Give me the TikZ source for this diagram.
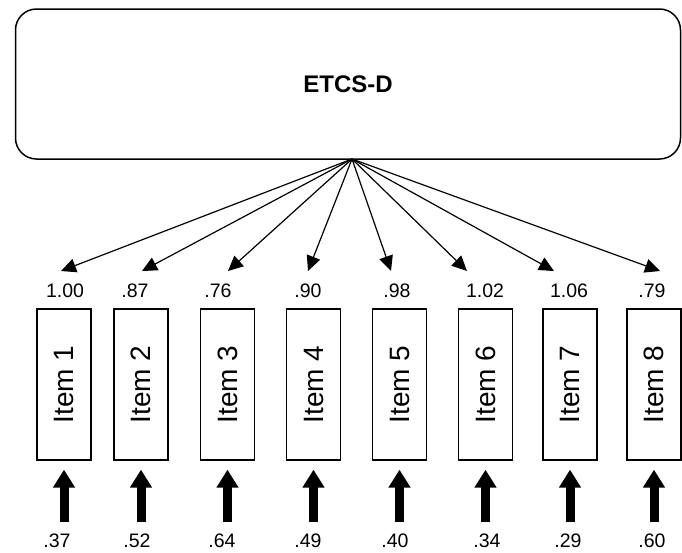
\documentclass[tikz,border=0pt]{standalone}
\usepackage{fontspec}
\setmainfont{Liberation Sans}
\usepackage{graphicx}
\usetikzlibrary{arrows.meta}

\tikzset{
  factor/.style={draw, line width=1.5pt, rounded corners=21pt, minimum width=665pt, minimum height=150pt, inner sep=0pt},
  itembox/.style={draw, line width=1.3pt, minimum width=54pt, minimum height=151pt, inner sep=0pt, font=\fontsize{28}{30}\selectfont},
  num/.style={inner sep=0pt, text height=13pt, text depth=0pt, font=\fontsize{19.5}{21}\selectfont},
  load/.style={line width=1.2pt, -{Triangle[length=15pt,width=14pt]}},
  err/.style={line width=9pt, -{Triangle[length=18pt,width=21pt]}, shorten <=12.5pt, shorten >=9pt}
}

\begin{document}
\begin{tikzpicture}[x=1pt, y=-1pt]
  \useasboundingbox (0,0) rectangle (682,552);

  % latent factor
  \node[factor] (etcs) at (348,84) {\fontsize{24}{28}\selectfont\bfseries ETCS-D};
  \coordinate (hub) at (352,159);

  % items, loadings and errors
  \foreach \i/\bx/\tx/\ld/\lx/\er/\ex in {1/64/61/1.00/65/.37/57, 2/141/142/.87/135/.52/137,
      3/227.5/228/.76/218/.64/222, 4/313.5/308/.90/308/.49/308, 5/399.5/391/.98/397/.40/395,
      6/485.5/467/1.02/485/.34/487, 7/570/554/1.06/569/.29/568, 8/654/660/.79/652/.60/652} {
    \node[itembox] (item\i) at (\bx,384.5) {\rotatebox{90}{Item \i}};
    \node[num] (ld\i) at (\lx,291) {\ld};
    \node[num] (er\i) at (\ex,541) {\er};
    \coordinate (tip\i) at (\tx,271);
    \draw[load] (hub) -- (tip\i);
    \draw[err] (item\i.south |- er\i.north) -- (item\i.south);
  }
\end{tikzpicture}
\end{document}
